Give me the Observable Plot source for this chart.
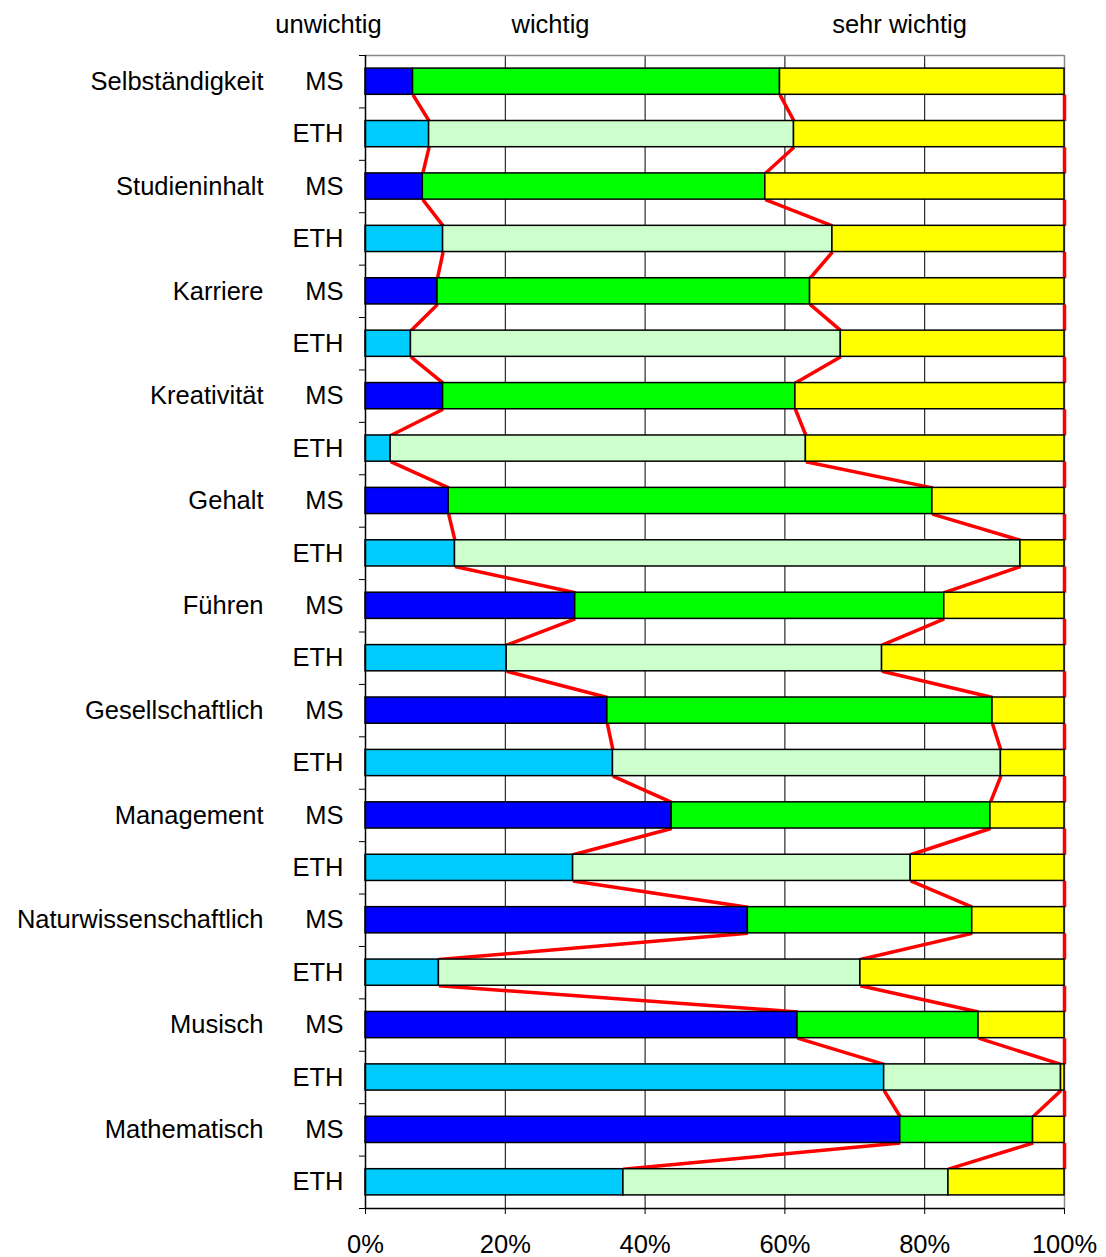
<!DOCTYPE html>
<html>
<head>
<meta charset="utf-8">
<script src="https://cdn.jsdelivr.net/npm/d3@7"></script>
<script src="https://cdn.jsdelivr.net/npm/@observablehq/plot@0.6"></script>
<style>
  html, body { margin: 0; padding: 0; background: white; }
  #chart { width: 1106px; height: 1257px; }
</style>
</head>
<body>
<div id="chart"></div>
<script>
const categories = ["Selbständigkeit", "Studieninhalt", "Karriere", "Kreativität", "Gehalt", "Führen",
  "Gesellschaftlich", "Management", "Naturwissenschaftlich", "Musisch", "Mathematisch"];
const groups = ["MS", "ETH"];
const levels = ["unwichtig", "wichtig", "sehr wichtig"];

const msUnwichtig  = [6.8, 8.2, 10.3, 11.1, 11.9, 30.0, 34.6, 43.8, 54.7, 61.8, 76.5];
const msWichtig    = [52.5, 49.0, 53.3, 50.4, 69.2, 52.8, 55.1, 45.6, 32.1, 25.9, 19.0];
const msSehr       = [40.7, 42.8, 36.4, 38.5, 18.9, 17.2, 10.3, 10.6, 13.2, 12.3, 4.5];

const ethUnwichtig = [9.1, 11.1, 6.5, 3.6, 12.8, 20.2, 35.4, 29.7, 10.5, 74.2, 36.9];
const ethWichtig   = [52.2, 55.7, 61.5, 59.4, 80.9, 53.7, 55.5, 48.3, 60.3, 25.3, 46.5];
const ethSehr      = [38.7, 33.2, 32.0, 37.0, 6.3, 26.1, 9.1, 22.0, 29.2, 0.5, 16.6];

const xTicks = [0, 20, 40, 60, 80, 100];

const palette = {
  MS:  ["#0000FF", "#00FF00", "#FFFF00"],
  ETH: ["#00CCFF", "#CCFFCC", "#FFFF00"]
};

// rows (one per bar)
const rows = [];
categories.forEach((cat, k) => {
  rows.push({cat, group: groups[0], shares: [msUnwichtig[k], msWichtig[k], msSehr[k]]});
  rows.push({cat, group: groups[1], shares: [ethUnwichtig[k], ethWichtig[k], ethSehr[k]]});
});
rows.forEach((r, i) => {
  r.i = i;
  let acc = 0;
  r.cum = r.shares.map(v => (acc += v));
});

const segments = [];
rows.forEach(r => {
  levels.forEach((lev, j) => {
    segments.push({
      i: r.i, group: r.group, level: lev,
      x1: j === 0 ? 0 : r.cum[j - 1], x2: r.cum[j],
      fill: palette[r.group][j]
    });
  });
});

// series lines between consecutive bars
const seriesLinks = [];
for (let i = 0; i < rows.length - 1; i++) {
  for (let j = 0; j < 3; j++) {
    seriesLinks.push({a: rows[i].cum[j], b: rows[i + 1].cum[j], i});
  }
}

const bandEdges = d3.range(-0.5, rows.length, 1);
const FS = 25.5;

const chart = Plot.plot({
  width: 1106,
  height: 1257,
  marginLeft: 365,
  marginRight: 42,
  marginTop: 55,
  marginBottom: 49,
  style: {fontFamily: "'Liberation Sans', Arial, sans-serif", fontSize: FS + "px", background: "white", color: "black"},
  x: {domain: [0, 100], label: null},
  y: {domain: [-0.5, rows.length - 0.5], reverse: true, label: null},
  color: {type: "identity"},
  marks: [
    Plot.ruleX([20, 40, 60, 80], {stroke: "black", strokeWidth: 1}),
    Plot.ruleY([-0.5], {stroke: "#888888", strokeWidth: 1.5}),
    Plot.ruleX([100], {stroke: "#888888", strokeWidth: 1.5}),
    Plot.link(seriesLinks, {
      x1: "a", y1: d => d.i + 0.25, x2: "b", y2: d => d.i + 0.75,
      stroke: "#FF0000", strokeWidth: 3.5
    }),
    Plot.rect(segments, {
      x1: "x1", x2: "x2",
      y1: d => d.i - 0.25, y2: d => d.i + 0.25,
      fill: "fill", stroke: "black", strokeWidth: 1.5
    }),
    Plot.ruleX([0], {stroke: "black", strokeWidth: 1.5}),
    Plot.ruleY([rows.length - 0.5], {stroke: "black", strokeWidth: 1.5}),
    Plot.axisX({ticks: xTicks, tickFormat: d => d + "%", tickSize: 6, tickPadding: 20, fontSize: FS, stroke: "black", label: null}),
    Plot.axisY({ticks: bandEdges, tickFormat: () => "", tickSize: 6, stroke: "black", label: null}),
    Plot.text(rows, {
      y: "i", text: "group", frameAnchor: "left", dx: -22,
      textAnchor: "end", lineAnchor: "middle", fontSize: FS, fill: "black"
    }),
    Plot.text(rows.filter(r => r.group === groups[0]), {
      y: "i", text: "cat", frameAnchor: "left", dx: -102,
      textAnchor: "end", lineAnchor: "middle", fontSize: FS, fill: "black"
    }),
    Plot.text([levels[0]], {frameAnchor: "top-left", dx: -37, dy: -31, textAnchor: "middle", lineAnchor: "middle", fontSize: FS, fill: "black"}),
    Plot.text([levels[1]], {frameAnchor: "top-left", dx: 185, dy: -31, textAnchor: "middle", lineAnchor: "middle", fontSize: FS, fill: "black"}),
    Plot.text([levels[2]], {frameAnchor: "top-left", dx: 534, dy: -31, textAnchor: "middle", lineAnchor: "middle", fontSize: FS, fill: "black"})
  ]
});

document.getElementById("chart").appendChild(chart);
</script>
</body>
</html>
